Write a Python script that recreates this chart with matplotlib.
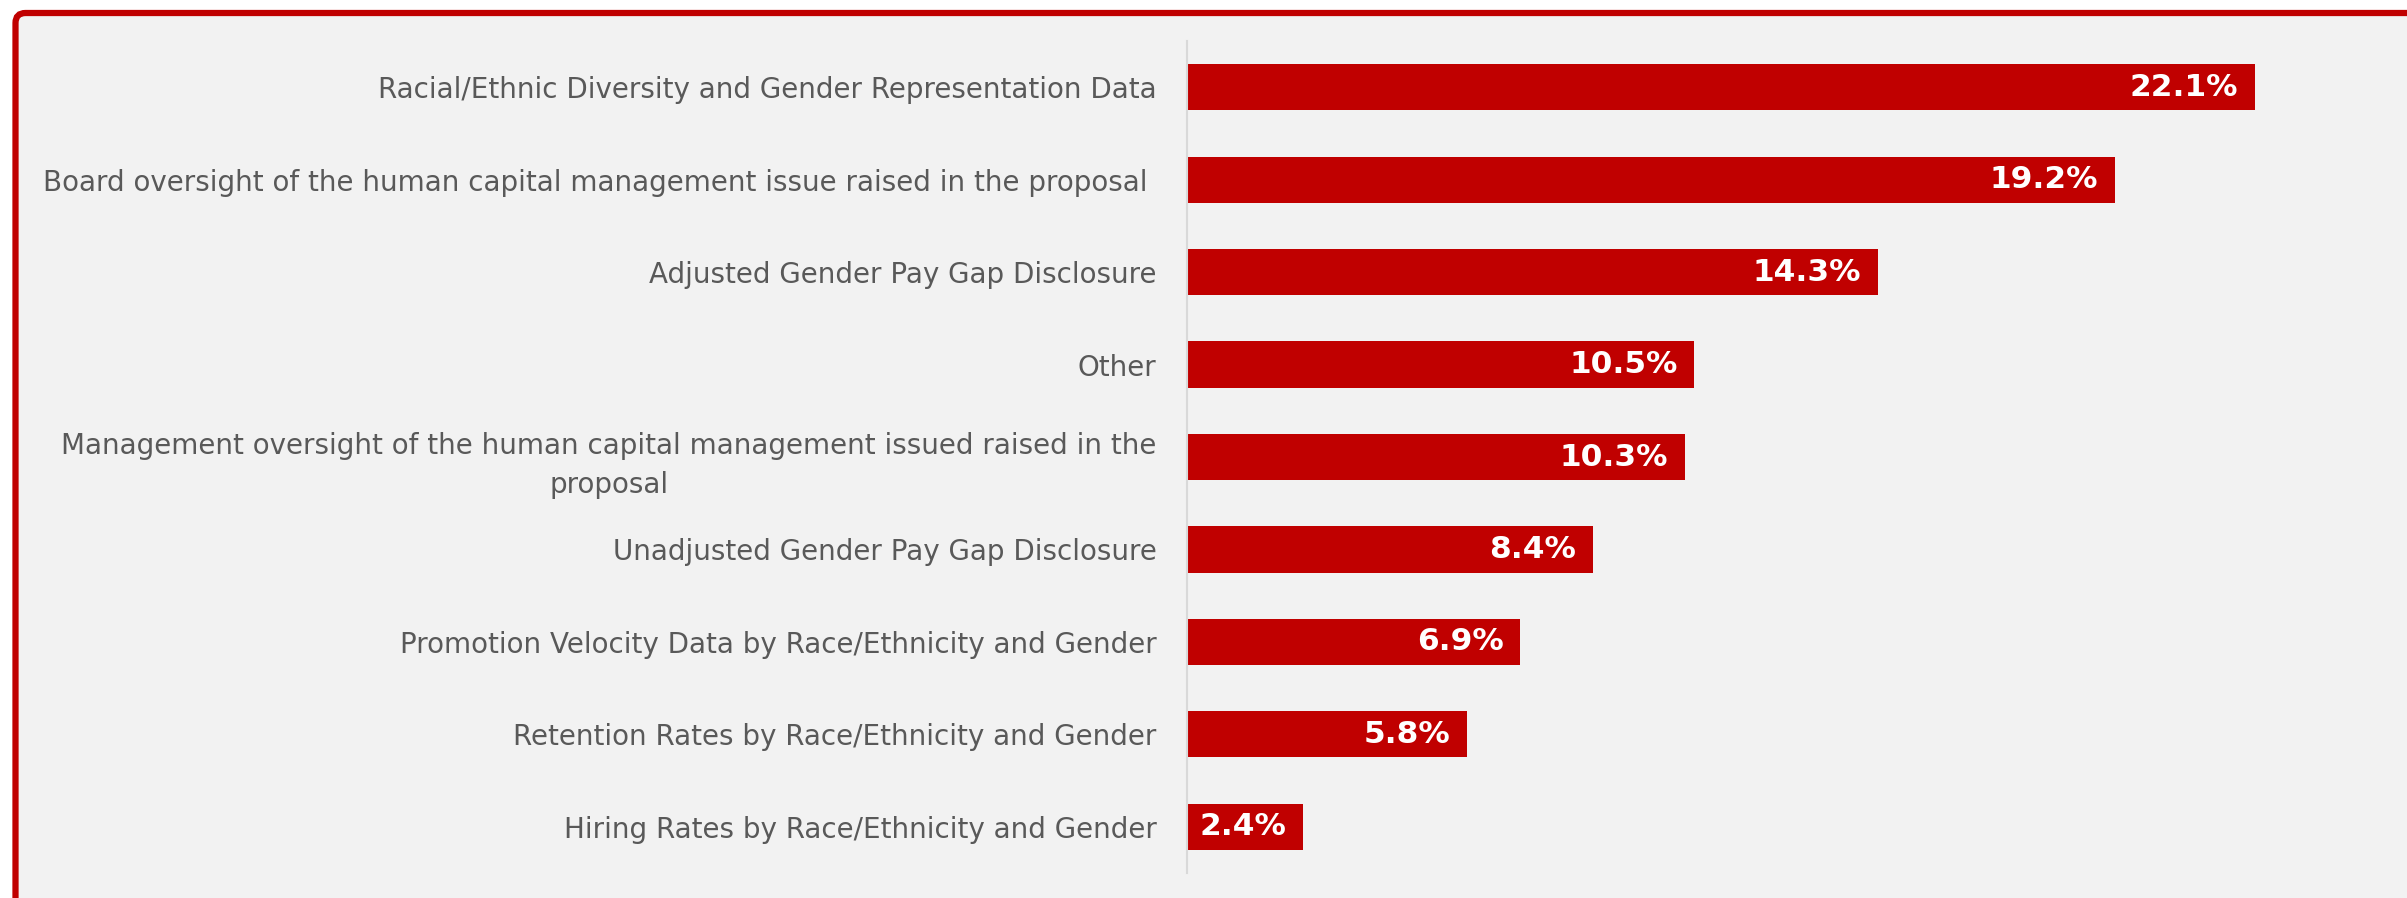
import matplotlib.pyplot as plt
from matplotlib.patches import FancyBboxPatch

# Share of human capital proposals by requested disclosure
categories = [
    "Racial/Ethnic Diversity and Gender Representation Data",
    "Board oversight of the human capital management issue raised in the proposal ",
    "Adjusted Gender Pay Gap Disclosure",
    "Other",
    "Management oversight of the human capital management issued raised in the\nproposal",
    "Unadjusted Gender Pay Gap Disclosure",
    "Promotion Velocity Data by Race/Ethnicity and Gender",
    "Retention Rates by Race/Ethnicity and Gender",
    "Hiring Rates by Race/Ethnicity and Gender",
]
shares = [22.1, 19.2, 14.3, 10.5, 10.3, 8.4, 6.9, 5.8, 2.4]

BAR_RED = "#C00000"
PANEL_GREY = "#F2F2F2"
TEXT_GREY = "#595959"

W, H = 2407, 898
fig = plt.figure(figsize=(W / 100, H / 100), dpi=100, facecolor="white")

# background layer in pixel units: grey panel, red frame on top/left
bg = fig.add_axes([0, 0, 1, 1], zorder=-1)
bg.set_xlim(0, W)
bg.set_ylim(H, 0)
bg.axis("off")
bg.add_patch(FancyBboxPatch((15.5, 13), W + 200, H + 200,
                            boxstyle="round,pad=0,rounding_size=10",
                            facecolor=PANEL_GREY, edgecolor=BAR_RED, linewidth=4.5,
                            clip_on=False))

ax = fig.add_axes([1187 / W, 1 - 873 / H, 1 - 1187 / W - 0.015, (873 - 41) / H])
ax.set_facecolor("none")

ypos = list(range(len(categories)))
bars = ax.barh(ypos, shares, height=0.5, color=BAR_RED, zorder=2)

for bar, val in zip(bars, shares):
    ax.annotate(f"{val:.1f}%", xy=(bar.get_width(), bar.get_y() + bar.get_height() / 2),
                xytext=(-12, 0), textcoords="offset points", ha="right", va="center",
                color="white", fontsize=22.5, fontweight="bold", family="DejaVu Sans")

ax.set_yticks(ypos)
ax.set_yticklabels(categories, fontsize=20, color=TEXT_GREY, family="DejaVu Sans",
                   multialignment="center", linespacing=1.5)
ax.set_ylim(len(categories) - 0.5, -0.5)
ax.set_xlim(0, 24.5)
ax.set_xticks([])
ax.tick_params(axis="y", length=0, pad=22)

for side in ("top", "right", "bottom"):
    ax.spines[side].set_visible(False)
ax.spines["left"].set_color("#D9D9D9")
ax.spines["left"].set_linewidth(1.5)

fig.savefig("out.png", dpi=100, facecolor="white")
